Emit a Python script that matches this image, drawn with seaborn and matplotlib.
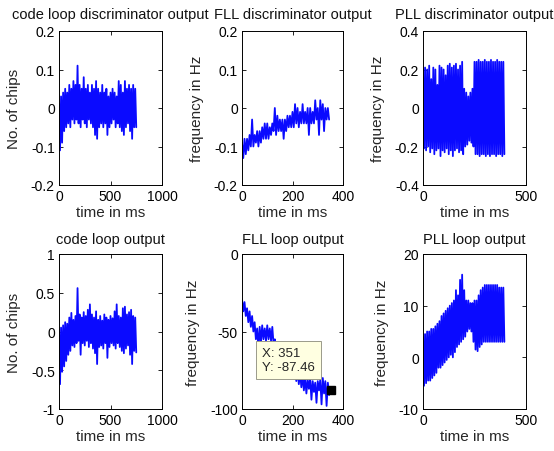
import numpy as np
import pandas as pd
import matplotlib
matplotlib.use('Agg')
import matplotlib.pyplot as plt
import seaborn as sns
from matplotlib.ticker import FixedLocator, FuncFormatter

# ---------------- data (upper / lower envelope of the noisy traces) ----------------
titles = ["code loop discriminator output", "FLL discriminator output", "PLL discriminator output",
          "code loop output", "FLL loop output", "PLL loop output"]
ylabels = ["No. of chips", "frequency in Hz", "frequency in Hz",
           "No. of chips", "frequency in Hz", "frequency in Hz"]
xlabel = "time in ms"

# sample step (ms) of each envelope list
steps = [20, 10, 10, 20, 10, 10]

code_disc_hi = [0.01, 0.03, 0.04, 0.05, 0.04, 0.06, 0.05, 0.07, 0.06, 0.11, 0.06, 0.05, 0.08, 0.05, 0.06,
                0.04, 0.06, 0.05, 0.07, 0.05, 0.04, 0.06, 0.04, 0.05, 0.03, 0.04, 0.05, 0.04, 0.03, 0.07,
                0.06, 0.04, 0.07, 0.05, 0.06, 0.05, 0.06, 0.05]
code_disc_lo = [-0.11, -0.09, -0.06, -0.05, -0.04, -0.05, -0.03, -0.04, -0.03, -0.04, -0.05, -0.03, -0.04,
                -0.05, -0.03, -0.04, -0.05, -0.07, -0.08, -0.05, -0.04, -0.05, -0.04, -0.07, -0.05, -0.04,
                -0.03, -0.05, -0.04, -0.05, -0.06, -0.07, -0.05, -0.04, -0.06, -0.08, -0.05, -0.05]

fll_disc_hi = [-0.09, -0.08, -0.08, -0.07, -0.03, -0.07, -0.06, -0.06, -0.05, -0.04, -0.04, -0.05, -0.04,
               0.00, -0.02, -0.03, -0.03, -0.03, -0.02, -0.02, -0.01, 0.01, 0.00, -0.01, 0.01, -0.01, 0.00,
               0.00, -0.01, 0.02, 0.00, 0.02, 0.01, 0.00, 0.00]
fll_disc_lo = [-0.13, -0.12, -0.11, -0.10, -0.10, -0.09, -0.10, -0.09, -0.08, -0.08, -0.08, -0.07, -0.06,
               -0.07, -0.06, -0.06, -0.08, -0.06, -0.05, -0.05, -0.05, -0.04, -0.05, -0.04, -0.04, -0.04,
               -0.07, -0.04, -0.04, -0.03, -0.07, -0.03, -0.06, -0.03, -0.03]

pll_disc_hi = [0.20, 0.21, 0.20, 0.22, 0.15, 0.21, 0.20, 0.12, 0.22, 0.21, 0.20, 0.17, 0.22, 0.23, 0.21,
               0.22, 0.23, 0.20, 0.22, 0.24, 0.10, 0.08, 0.06, 0.08, 0.10, 0.24, 0.24, 0.25, 0.24, 0.24,
               0.25, 0.24, 0.24, 0.25, 0.24, 0.24, 0.25, 0.24, 0.24, 0.24]
pll_disc_lo = [-0.21, -0.22, -0.20, -0.23, -0.21, -0.24, -0.22, -0.21, -0.25, -0.22, -0.23, -0.21, -0.24,
               -0.22, -0.25, -0.22, -0.21, -0.23, -0.22, -0.24, -0.20, -0.19, -0.17, -0.18, -0.20, -0.24,
               -0.24, -0.25, -0.24, -0.24, -0.25, -0.24, -0.25, -0.24, -0.24, -0.25, -0.24, -0.24, -0.25,
               -0.24]

code_loop_hi = [0.02, 0.05, 0.08, 0.12, 0.10, 0.18, 0.24, 0.15, 0.20, 0.56, 0.22, 0.18, 0.25, 0.20, 0.28,
                0.35, 0.22, 0.18, 0.26, 0.15, 0.20, 0.14, 0.22, 0.18, 0.15, 0.20, 0.17, 0.26, 0.35, 0.20,
                0.18, 0.30, 0.32, 0.22, 0.25, 0.28, 0.20, 0.18]
code_loop_lo = [-0.68, -0.52, -0.45, -0.38, -0.30, -0.25, -0.18, -0.20, -0.15, -0.12, -0.30, -0.15, -0.18,
                -0.12, -0.20, -0.15, -0.22, -0.28, -0.42, -0.20, -0.18, -0.22, -0.15, -0.34, -0.20, -0.15,
                -0.18, -0.22, -0.15, -0.20, -0.25, -0.28, -0.22, -0.18, -0.30, -0.42, -0.25, -0.27]

fll_loop_hi = [-29, -31, -35, -37, -40, -44, -48, -47, -46, -48, -46, -48, -47, -55, -58, -60, -62, -64,
               -66, -68, -70, -72, -74, -76, -78, -80, -81, -80, -82, -83, -82, -81, -80, -82, -83]
fll_loop_lo = [-37, -40, -44, -47, -50, -55, -61, -57, -55, -56, -55, -56, -58, -65, -68, -70, -72, -74,
               -76, -78, -80, -82, -84, -86, -88, -90, -87, -94, -89, -96, -88, -97, -90, -98, -91]

pll_loop_hi = [4, 4.5, 5, 5, 5.5, 5.5, 6, 6.5, 7, 8, 8.5, 9, 9.5, 10, 10.5, 11, 13, 12, 15, 16, 13, 11, 11,
               10.5, 10.5, 11, 11, 12, 13, 13.5, 14, 14, 14, 14, 14, 14, 14, 13.5, 13.5, 13.5]
pll_loop_lo = [-5.5, -5, -4.5, -4.5, -4, -3.5, -3, -2, -2, -1.5, -1, -0.5, 0, 0.5, 0, 1, 2, 2.5, 3, 3.5, 4,
               5, 5.5, 5, 3, 1.5, 1.2, 2, 2.5, 3, 3, 3, 3, 3, 3, 3, 3, 3, 3, 3]

# data tip on the FLL loop output
tip_x = 351
tip_y = -87.46

# axis ticks
xticks = [[0, 500, 1000], [0, 200, 400], [0, 500], [0, 500, 1000], [0, 200, 400], [0, 500]]
yticks = [[-0.2, -0.1, 0, 0.1, 0.2], [-0.2, -0.1, 0, 0.1, 0.2], [-0.4, -0.2, 0, 0.2, 0.4],
          [-1, -0.5, 0, 0.5, 1], [-100, -50, 0], [-10, 0, 10, 20]]

series = [(code_disc_hi, code_disc_lo), (fll_disc_hi, fll_disc_lo), (pll_disc_hi, pll_disc_lo),
          (code_loop_hi, code_loop_lo), (fll_loop_hi, fll_loop_lo), (pll_loop_hi, pll_loop_lo)]

# ---------------- style ----------------
sns.set_theme(style='white', rc={
    'xtick.direction': 'in', 'ytick.direction': 'in',
    'xtick.major.size': 3, 'ytick.major.size': 3,
    'xtick.major.width': 0.6, 'ytick.major.width': 0.6,
    'axes.edgecolor': 'black', 'axes.linewidth': 0.7,
    'xtick.bottom': True, 'ytick.left': True,
})
plt.rcParams['font.family'] = ['Liberation Sans', 'DejaVu Sans']

fig = plt.figure(figsize=(5.54, 4.52), dpi=100)
W, H = 554.0, 452.0
lefts = [59, 242, 423]
widths = [103, 101, 103]
rows = [(32, 186), (255, 410)]
title_pads = [9, 8]


def build_trace(hi, lo, step):
    t, v = [], []
    for i, (h, l) in enumerate(zip(hi, lo)):
        t += [i * step, i * step + step / 2.0]
        v += [h, l]
    return pd.DataFrame({'t': t, 'v': v})


fmt = FuncFormatter(lambda val, pos: ('%g' % val))

for k in range(6):
    r, c = divmod(k, 3)
    top, bot = rows[r]
    ax = fig.add_axes([lefts[c] / W, 1 - bot / H, widths[c] / W, (bot - top) / H])
    hi, lo = series[k]
    df = build_trace(hi, lo, steps[k])
    sns.lineplot(data=df, x='t', y='v', sort=False, estimator=None, color='#0a0aff',
                 linewidth=1.3, ax=ax)
    ax.set_xlim(xticks[k][0], xticks[k][-1])
    ax.set_ylim(yticks[k][0], yticks[k][-1])
    ax.xaxis.set_major_locator(FixedLocator(xticks[k]))
    ax.yaxis.set_major_locator(FixedLocator(yticks[k]))
    ax.xaxis.set_major_formatter(fmt)
    ax.yaxis.set_major_formatter(fmt)
    ax.tick_params(axis='both', which='major', labelsize=10, colors='black', pad=3,
                   top=True, right=True, direction='in')
    ax.set_title(titles[k], fontsize=10.5, pad=title_pads[r], color='#111111')
    ax.set_xlabel(xlabel, fontsize=11, labelpad=1)
    ax.set_ylabel(ylabels[k], fontsize=11, labelpad=7)
    for s in ax.spines.values():
        s.set_visible(True)
        s.set_color('black')
    if k == 4:
        ax.plot([tip_x], [tip_y], marker='s', color='black', markersize=6, zorder=5)
        ax.annotate('X: %d\nY: %.2f' % (tip_x, tip_y), xy=(tip_x, tip_y), xytext=(80, -60),
                    textcoords='data', ha='left', va='top', fontsize=9.5, zorder=6,
                    bbox=dict(boxstyle='square,pad=0.45', fc='#ffffe1', ec='#9a9a8a', lw=0.7))

fig.savefig('out.png', dpi=100)
